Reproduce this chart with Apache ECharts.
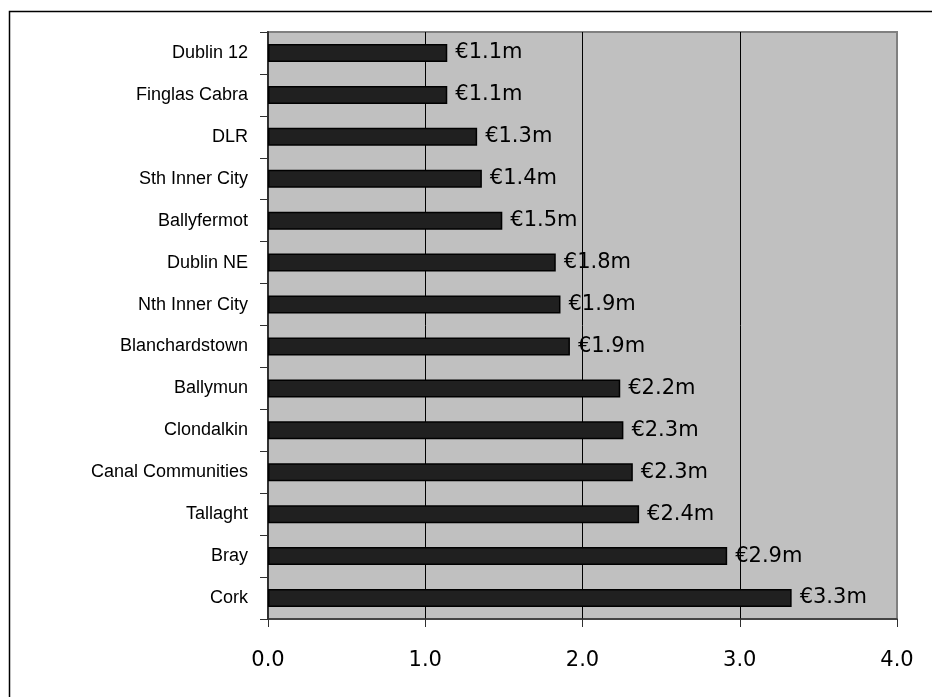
<!DOCTYPE html>
<html>
<head>
<meta charset="utf-8">
<title>Funding by area</title>
<script src="https://cdn.jsdelivr.net/npm/echarts@6/dist/echarts.min.js"></script>
<style>
  html, body { margin: 0; padding: 0; background: #ffffff; }
  #chart { width: 932px; height: 697px; }
</style>
</head>
<body>
<div id="chart"></div>
<script>
// Areas, listed top to bottom
const areas = [
  'Dublin 12', 'Finglas Cabra', 'DLR', 'Sth Inner City', 'Ballyfermot',
  'Dublin NE', 'Nth Inner City', 'Blanchardstown', 'Ballymun', 'Clondalkin',
  'Canal Communities', 'Tallaght', 'Bray', 'Cork'
];
// Funding in € millions
const funding = [
  1.14, 1.14, 1.33, 1.36, 1.49,
  1.83, 1.86, 1.92, 2.24, 2.26,
  2.32, 2.36, 2.92, 3.33
];
// Value axis range and step
const axisMin = 0;
const axisMax = 4;
const axisStep = 1;

const chart = echarts.init(document.getElementById('chart'));

chart.setOption({
  animation: false,
  backgroundColor: '#ffffff',
  graphic: [{
    type: 'rect',
    shape: { x: 9.5, y: 11.5, width: 1000, height: 1000 },
    style: { fill: 'none', stroke: '#000000', lineWidth: 1.5 },
    silent: true,
    z: 100
  }],
  grid: {
    left: 268,
    right: 35,
    top: 32,
    bottom: 78,
    show: true,
    backgroundColor: '#c0c0c0',
    borderColor: '#808080',
    borderWidth: 2
  },
  xAxis: {
    type: 'value',
    min: axisMin,
    max: axisMax,
    interval: axisStep,
    axisLine: { show: true, lineStyle: { color: '#303030', width: 1.5 } },
    axisTick: { show: true, length: 8, lineStyle: { color: '#303030', width: 1 } },
    splitLine: {
      show: true,
      lineStyle: { color: ['#000000', '#000000', '#000000', '#000000', '#808080'], width: 1 }
    },
    axisLabel: {
      margin: 31,
      fontFamily: 'DejaVu Sans',
      fontSize: 21,
      color: '#000000',
      formatter: v => v.toFixed(1)
    }
  },
  yAxis: {
    type: 'category',
    data: areas,
    inverse: true,
    axisLine: { show: true, lineStyle: { color: '#303030', width: 2 } },
    axisTick: { show: true, length: 8, alignWithLabel: false, lineStyle: { color: '#303030', width: 1 } },
    splitLine: { show: false },
    axisLabel: {
      margin: 20,
      fontFamily: 'Liberation Sans',
      fontSize: 18,
      color: '#000000'
    }
  },
  series: [{
    type: 'bar',
    data: funding,
    barWidth: 18,
    itemStyle: {
      color: '#202020',
      borderColor: '#000000',
      borderWidth: 1.5
    },
    label: {
      show: true,
      position: 'right',
      distance: 8,
      fontFamily: 'DejaVu Sans',
      fontSize: 21,
      color: '#000000',
      formatter: p => '€' + p.value.toFixed(1) + 'm'
    }
  }]
});
</script>
</body>
</html>
